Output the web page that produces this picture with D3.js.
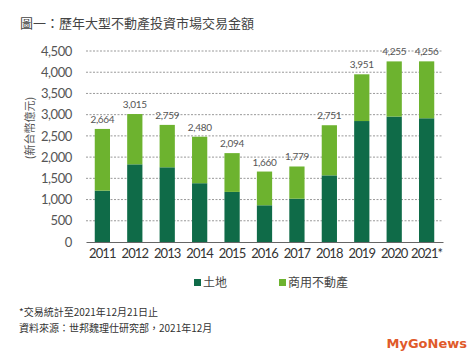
<!DOCTYPE html>
<html><head><meta charset="utf-8">
<script src="https://cdn.jsdelivr.net/npm/d3@7"></script>
<style>body{margin:0;background:#fff;}svg{display:block;}</style>
</head><body>
<script>
const years = ["2011","2012","2013","2014","2015","2016","2017","2018","2019","2020","2021*"];
const land = [1210,1830,1760,1385,1180,865,1020,1570,2850,2955,2915];
const totals = [2664,3015,2759,2480,2094,1660,1779,2751,3951,4255,4256];
const commercial = totals.map((t,i)=>t-land[i]);
const yTicks = [0,500,1000,1500,2000,2500,3000,3500,4000,4500];
const seriesNames = ["土地","商用不動產"];
const colors = ["#0f6b48","#6db32f"];

const W=474,H=355;
const svg=d3.select("body").append("svg").attr("width",W).attr("height",H);
const x=d3.scaleBand().domain(years).range([86,443]).paddingInner(0.53).paddingOuter(0.27);
const y=d3.scaleLinear().domain([0,4500]).range([242,51]);
const font="Lato,sans-serif";
const cjk="'Noto Sans CJK TC',sans-serif";

svg.append("text").attr("x",20).attr("y",28).attr("font-size",13).attr("fill","#444")
  .attr("font-family",cjk).text("圖一：歷年大型不動產投資市場交易金額");

// grid
svg.append("g").selectAll("line").data(yTicks.filter(d=>d>0)).join("line")
  .attr("x1",86).attr("x2",443).attr("y1",d=>y(d)).attr("y2",d=>y(d))
  .attr("stroke","#999").attr("stroke-width",1).attr("stroke-dasharray","2,1.5");

// y axis
const ya=svg.append("g").attr("transform","translate(86,0)")
  .call(d3.axisLeft(y).tickValues(yTicks).tickFormat(d3.format(",")).tickSize(0).tickPadding(14));
ya.select(".domain").remove();
ya.selectAll("text").attr("font-size",13).attr("font-weight",400).attr("letter-spacing","-0.4")
  .attr("fill","#555").attr("font-family",font);

// stacks
const stackData=years.map((yr,i)=>({year:yr,land:land[i],commercial:commercial[i]}));
const stack=d3.stack().keys(["land","commercial"])(stackData);
svg.append("g").selectAll("g").data(stack).join("g").attr("fill",(d,i)=>colors[i])
  .selectAll("rect").data(d=>d).join("rect")
  .attr("x",d=>x(d.data.year)).attr("width",x.bandwidth())
  .attr("y",d=>y(d[1])).attr("height",d=>y(d[0])-y(d[1]));

// totals
svg.append("g").selectAll("text").data(totals).join("text")
  .attr("x",(d,i)=>x(years[i])+x.bandwidth()/2).attr("y",d=>y(d)-6)
  .attr("text-anchor","middle").attr("font-size",10).attr("font-weight",400).attr("letter-spacing","-0.3")
  .attr("fill","#555").attr("font-family",font)
  .text(d=>d3.format(",")(d));

// x axis
const xa=svg.append("g").attr("transform","translate(0,242)")
  .call(d3.axisBottom(x).tickSize(0).tickPadding(7));
xa.select(".domain").attr("stroke","#666").attr("stroke-width",1.2);
xa.selectAll("text").attr("font-size",13).attr("font-weight",400).attr("letter-spacing","-0.9")
  .attr("fill","#333").attr("font-family",font);

// y title
svg.append("text").attr("transform","translate(34,128) rotate(-90)").attr("text-anchor","middle")
  .attr("font-size",11).attr("fill","#555").attr("font-family",cjk).text("(新台幣億元)");

// legend
const lg=[{x:194},{x:279}];
seriesNames.forEach((n,i)=>{
  svg.append("rect").attr("x",lg[i].x).attr("y",279).attr("width",7).attr("height",7).attr("fill",colors[i]);
  svg.append("text").attr("x",lg[i].x+9).attr("y",287).attr("font-size",12).attr("fill","#444")
    .attr("font-family",cjk).text(n);
});

// notes
svg.append("text").attr("x",19).attr("y",316).attr("font-size",10).attr("fill","#333")
  .attr("font-family",cjk).text("*交易統計至2021年12月21日止");
svg.append("text").attr("x",19).attr("y",332).attr("font-size",10).attr("fill","#333")
  .attr("font-family",cjk).text("資料來源：世邦魏理仕研究部，2021年12月");

svg.append("text").attr("x",467).attr("y",348).attr("text-anchor","end").attr("font-size",13)
  .attr("font-weight","bold").attr("fill","#e05a2a").attr("font-family","'DejaVu Sans',sans-serif").text("MyGoNews");
</script>
</body></html>
